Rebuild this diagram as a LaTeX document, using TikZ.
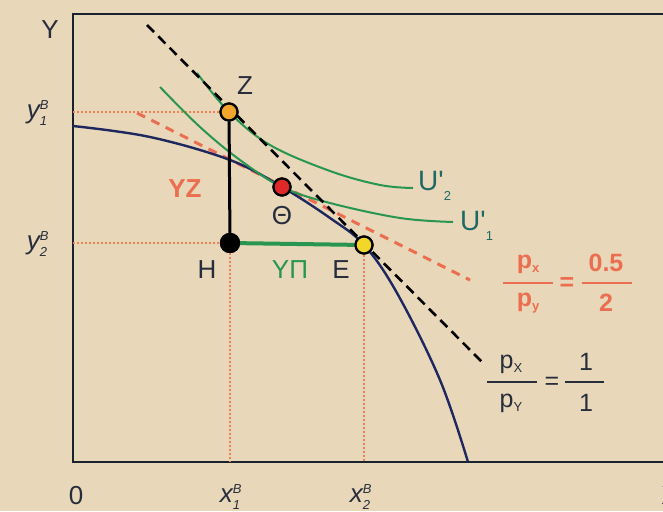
\documentclass[tikz,border=0pt]{standalone}
\usepackage{fontspec}
\setmainfont{Liberation Sans}
\usetikzlibrary{positioning}

\definecolor{bgbeige}{RGB}{232,215,185}
\definecolor{axisdark}{RGB}{25,35,45}
\definecolor{ppfblue}{RGB}{30,40,95}
\definecolor{icgreen}{RGB}{40,150,80}
\definecolor{guideorange}{RGB}{240,130,85}
\definecolor{pricered}{RGB}{235,110,80}
\definecolor{labteal}{RGB}{30,105,100}
\definecolor{labdark}{RGB}{40,45,60}
\definecolor{zorange}{RGB}{240,165,45}
\definecolor{thred}{RGB}{225,40,40}
\definecolor{eyellow}{RGB}{240,215,40}

\newcommand{\bigfont}{\fontsize{26}{28}\selectfont}
\newcommand{\smallfont}{\fontsize{13}{14}\selectfont}
\newcommand{\fracfont}{\fontsize{25}{27}\selectfont}
\newcommand{\subfont}{\fontsize{13}{14}\selectfont}
\newcommand{\coordlbl}[2]{$\hbox{\itshape #1}^{\hbox{\smallfont\itshape B}}_{\hbox{\smallfont\itshape #2}}$}

\begin{document}
\begin{tikzpicture}[x=1pt,y=-1pt,
  axis/.style={axisdark, line width=2.6pt},
  guide/.style={guideorange, line width=1.6pt, dash pattern=on 2pt off 2pt},
  ppf/.style={ppfblue, line width=2.4pt},
  indiff/.style={icgreen, line width=2pt},
  dot/.style={circle, draw=black, line width=2.2pt, minimum size=17pt, inner sep=0pt},
  lbl/.style={font=\bigfont, text=labdark},
  ulbl/.style={font=\fontsize{28}{30}\selectfont, text=labteal, anchor=west, inner sep=0pt},
  fracred/.style={font=\fracfont\bfseries, text=pricered, inner sep=0pt},
  fracblack/.style={font=\fracfont, text=labdark, inner sep=0pt}]
\useasboundingbox (0,0) rectangle (663,511);
\fill[bgbeige] (0,0) rectangle (663,511);

% frame and axes
\draw[axis] (680,14) -- (73,14) -- (73,462) -- (680,462);
\coordinate (y1) at (73,112);
\coordinate (y2) at (73,243);
\coordinate (x1) at (230,462);
\coordinate (x2) at (364,462);

% points
\node[dot, fill=zorange] (Z) at (229,112) {};
\node[dot, fill=thred] (Th) at (282,187) {};
\node[dot, fill=black, minimum size=18pt] (H) at (230,243) {};
\node[dot, fill=eyellow] (E) at (364,245) {};

% guide lines
\draw[guide] (y1) -- (Z);
\draw[guide] (y2) -- (H);
\draw[guide] (H) -- (x1);
\draw[guide] (E) -- (x2);

% price lines and curves
\draw[pricered, line width=3pt, dash pattern=on 9pt off 7pt] (137,113) -- (470,280);
\draw[ppf] plot[smooth, tension=0.6] coordinates {(73,126) (150,137) (230,160) (282,187) (330,218) (364,245) (397,293) (440,380) (468,462)};
\draw[indiff] plot[smooth, tension=0.6] coordinates {(197,73) (229,112) (270,145) (330,171) (380,185) (413,188)};
\draw[indiff] plot[smooth, tension=0.6] coordinates {(160,87) (200,127) (240,160) (282,187) (330,203) (400,218) (453,222)};
\draw[black, line width=2.6pt, dash pattern=on 10pt off 6pt] (147,25) -- (482,362);

% segments
\draw[black, line width=3pt] (Z) -- (H);
\draw[icgreen, line width=4pt] (H) -- (E);
\node[dot, fill=zorange] at (Z) {};
\node[dot, fill=thred] at (Th) {};
\node[dot, fill=black, minimum size=18pt] at (H) {};
\node[dot, fill=eyellow] at (E) {};

% labels
\node[lbl] (Ylab) at (50,30) {Y};
\node[lbl] (Olab) at (76,496) {0};
\node[lbl] (Xlab) at (670,496) {X};
\node[lbl] (x1lab) at (231,497) {\coordlbl{x}{1}};
\node[lbl] (x2lab) at (361,497) {\coordlbl{x}{2}};
\node[lbl] (y1lab) at (38,113) {\coordlbl{y}{1}};
\node[lbl] (y2lab) at (38,244) {\coordlbl{y}{2}};
\node[lbl] (Zlab) at (245,86) {Z};
\node[lbl] (Thlab) at (282,216) {Θ};
\node[lbl] (Hlab) at (207,270) {H};
\node[lbl] (Elab) at (341,270) {E};
\node[lbl, text=icgreen] (YPlab) at (290,270) {ΥΠ};
\node[lbl, text=pricered, font=\bigfont\bfseries] (YZlab) at (185,189) {YZ};
\node[ulbl] (U2lab) at (418,186) {U\textquotesingle\raisebox{-10pt}{\smallfont 2}};
\node[ulbl] (U1lab) at (460,226) {U\textquotesingle\raisebox{-10pt}{\smallfont 1}};

% red price ratio
\node[fracred] (rpx) at (528,264) {p\raisebox{-4pt}{\subfont x}};
\node[fracred] (rpy) at (528,303) {p\raisebox{-4pt}{\subfont y}};
\node[fracred] (req) at (567,284) {=};
\node[fracred] (rnum) at (606,263) {0.5};
\node[fracred] (rden) at (606,303) {2};
\draw[pricered, line width=2.4pt] (503,283) -- (553,283);
\draw[pricered, line width=2.4pt] (582,283) -- (632,283);

% black price ratio
\node[fracblack] (bpx) at (511,364) {p\raisebox{-4pt}{\subfont X}};
\node[fracblack] (bpy) at (511,403) {p\raisebox{-4pt}{\subfont Y}};
\node[fracblack] (beq) at (552,383) {=};
\node[fracblack] (bnum) at (586,362) {1};
\node[fracblack] (bden) at (586,403) {1};
\draw[labdark, line width=1.8pt] (487,382) -- (537,382);
\draw[labdark, line width=1.8pt] (565,382) -- (604,382);
\end{tikzpicture}
\end{document}
